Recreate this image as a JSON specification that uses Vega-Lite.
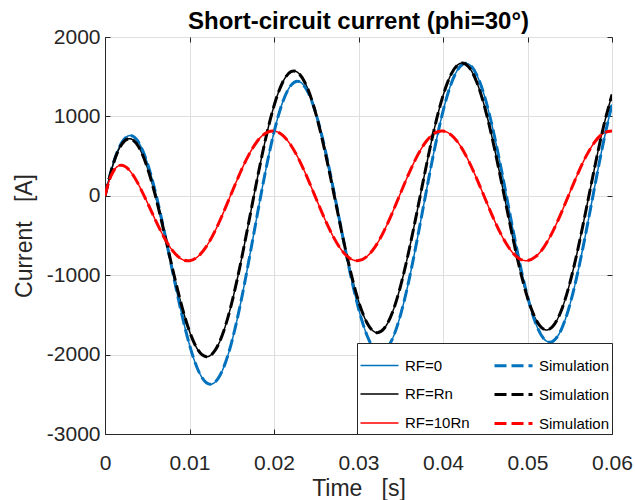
{
"$schema": "https://vega.github.io/schema/vega-lite/v6.json",
"width": 507, "height": 397,
"autosize": {"type": "none"},
"padding": {"left": 105, "top": 37, "right": 23, "bottom": 66},
"background": "white",
"title": {"text": "Short-circuit current (phi=30°)", "fontSize": 24, "fontWeight": "bold", "font": "Liberation Sans", "color": "#000000", "anchor": "middle", "offset": 7, "dy": 15},
"config": {
  "font": "Liberation Sans",
  "view": {"stroke": "#262626", "strokeWidth": 1},
  "axis": {"domainColor": "#262626", "tickColor": "#262626", "labelColor": "#262626", "titleColor": "#262626", "gridColor": "#DFDFDF", "labelFontSize": 21, "titleFontSize": 23, "titleFontWeight": "normal", "labelFont": "Liberation Sans", "titleFont": "Liberation Sans", "labelFlush": false, "tickSize": -5},
  "legend": {"orient": "bottom-right", "offset": 0, "columns": 2, "symbolType": "stroke", "symbolSize": 1444, "fillColor": "white", "strokeColor": "#262626", "padding": 2, "rowPadding": 0, "columnPadding": 18, "labelFontSize": 15, "labelColor": "#000000", "labelFont": "Liberation Sans", "labelOffset": 5}
},
"data": {"values": [
{"t":0,"s":"a","s2":"a2","i":0},{"t":0.001,"s":"a","s2":"a2","i":415},{"t":0.002,"s":"a","s2":"a2","i":674},{"t":0.003,"s":"a","s2":"a2","i":760},{"t":0.004,"s":"a","s2":"a2","i":670},{"t":0.005,"s":"a","s2":"a2","i":417},{"t":0.006,"s":"a","s2":"a2","i":32},{"t":0.007,"s":"a","s2":"a2","i":-442},{"t":0.008,"s":"a","s2":"a2","i":-955},{"t":0.009,"s":"a","s2":"a2","i":-1451},
{"t":0.010,"s":"a","s2":"a2","i":-1878},{"t":0.011,"s":"a","s2":"a2","i":-2191},{"t":0.012,"s":"a","s2":"a2","i":-2354},{"t":0.013,"s":"a","s2":"a2","i":-2349},{"t":0.014,"s":"a","s2":"a2","i":-2173},{"t":0.015,"s":"a","s2":"a2","i":-1839},{"t":0.016,"s":"a","s2":"a2","i":-1378},{"t":0.017,"s":"a","s2":"a2","i":-831},{"t":0.018,"s":"a","s2":"a2","i":-249},{"t":0.019,"s":"a","s2":"a2","i":312},
{"t":0.020,"s":"a","s2":"a2","i":801},{"t":0.021,"s":"a","s2":"a2","i":1172},{"t":0.022,"s":"a","s2":"a2","i":1391},{"t":0.023,"s":"a","s2":"a2","i":1438},{"t":0.024,"s":"a","s2":"a2","i":1310},{"t":0.025,"s":"a","s2":"a2","i":1023},{"t":0.026,"s":"a","s2":"a2","i":606},{"t":0.027,"s":"a","s2":"a2","i":101},{"t":0.028,"s":"a","s2":"a2","i":-441},{"t":0.029,"s":"a","s2":"a2","i":-965},
{"t":0.030,"s":"a","s2":"a2","i":-1419},{"t":0.031,"s":"a","s2":"a2","i":-1757},{"t":0.032,"s":"a","s2":"a2","i":-1944},{"t":0.033,"s":"a","s2":"a2","i":-1961},{"t":0.034,"s":"a","s2":"a2","i":-1805},{"t":0.035,"s":"a","s2":"a2","i":-1491},{"t":0.036,"s":"a","s2":"a2","i":-1049},{"t":0.037,"s":"a","s2":"a2","i":-519},{"t":0.038,"s":"a","s2":"a2","i":45},{"t":0.039,"s":"a","s2":"a2","i":590},
{"t":0.040,"s":"a","s2":"a2","i":1064},{"t":0.041,"s":"a","s2":"a2","i":1421},{"t":0.042,"s":"a","s2":"a2","i":1626},{"t":0.043,"s":"a","s2":"a2","i":1661},{"t":0.044,"s":"a","s2":"a2","i":1521},{"t":0.045,"s":"a","s2":"a2","i":1223},{"t":0.046,"s":"a","s2":"a2","i":794},{"t":0.047,"s":"a","s2":"a2","i":279},{"t":0.048,"s":"a","s2":"a2","i":-273},{"t":0.049,"s":"a","s2":"a2","i":-806},
{"t":0.050,"s":"a","s2":"a2","i":-1268},{"t":0.051,"s":"a","s2":"a2","i":-1614},{"t":0.052,"s":"a","s2":"a2","i":-1808},{"t":0.053,"s":"a","s2":"a2","i":-1833},{"t":0.054,"s":"a","s2":"a2","i":-1684},{"t":0.055,"s":"a","s2":"a2","i":-1377},{"t":0.056,"s":"a","s2":"a2","i":-940},{"t":0.057,"s":"a","s2":"a2","i":-417},{"t":0.058,"s":"a","s2":"a2","i":142},{"t":0.059,"s":"a","s2":"a2","i":682},{"t":0.060,"s":"a","s2":"a2","i":1151},
{"t":0,"s":"b","s2":"b2","i":0},{"t":0.001,"s":"b","s2":"b2","i":409},{"t":0.002,"s":"b","s2":"b2","i":652},{"t":0.003,"s":"b","s2":"b2","i":718},{"t":0.004,"s":"b","s2":"b2","i":614},{"t":0.005,"s":"b","s2":"b2","i":358},{"t":0.006,"s":"b","s2":"b2","i":-14},{"t":0.007,"s":"b","s2":"b2","i":-458},{"t":0.008,"s":"b","s2":"b2","i":-922},{"t":0.009,"s":"b","s2":"b2","i":-1355},
{"t":0.010,"s":"b","s2":"b2","i":-1708},{"t":0.011,"s":"b","s2":"b2","i":-1941},{"t":0.012,"s":"b","s2":"b2","i":-2026},{"t":0.013,"s":"b","s2":"b2","i":-1951},{"t":0.014,"s":"b","s2":"b2","i":-1719},{"t":0.015,"s":"b","s2":"b2","i":-1349},{"t":0.016,"s":"b","s2":"b2","i":-875},{"t":0.017,"s":"b","s2":"b2","i":-340},{"t":0.018,"s":"b","s2":"b2","i":206},{"t":0.019,"s":"b","s2":"b2","i":713},
{"t":0.020,"s":"b","s2":"b2","i":1132},{"t":0.021,"s":"b","s2":"b2","i":1424},{"t":0.022,"s":"b","s2":"b2","i":1563},{"t":0.023,"s":"b","s2":"b2","i":1535},{"t":0.024,"s":"b","s2":"b2","i":1346},{"t":0.025,"s":"b","s2":"b2","i":1015},{"t":0.026,"s":"b","s2":"b2","i":575},{"t":0.027,"s":"b","s2":"b2","i":71},{"t":0.028,"s":"b","s2":"b2","i":-448},{"t":0.029,"s":"b","s2":"b2","i":-929},
{"t":0.030,"s":"b","s2":"b2","i":-1326},{"t":0.031,"s":"b","s2":"b2","i":-1598},{"t":0.032,"s":"b","s2":"b2","i":-1719},{"t":0.033,"s":"b","s2":"b2","i":-1675},{"t":0.034,"s":"b","s2":"b2","i":-1472},{"t":0.035,"s":"b","s2":"b2","i":-1128},{"t":0.036,"s":"b","s2":"b2","i":-676},{"t":0.037,"s":"b","s2":"b2","i":-162},{"t":0.038,"s":"b","s2":"b2","i":366},{"t":0.039,"s":"b","s2":"b2","i":856},
{"t":0.040,"s":"b","s2":"b2","i":1260},{"t":0.041,"s":"b","s2":"b2","i":1539},{"t":0.042,"s":"b","s2":"b2","i":1666},{"t":0.043,"s":"b","s2":"b2","i":1628},{"t":0.044,"s":"b","s2":"b2","i":1430},{"t":0.045,"s":"b","s2":"b2","i":1090},{"t":0.046,"s":"b","s2":"b2","i":642},{"t":0.047,"s":"b","s2":"b2","i":131},{"t":0.048,"s":"b","s2":"b2","i":-394},{"t":0.049,"s":"b","s2":"b2","i":-881},
{"t":0.050,"s":"b","s2":"b2","i":-1283},{"t":0.051,"s":"b","s2":"b2","i":-1559},{"t":0.052,"s":"b","s2":"b2","i":-1684},{"t":0.053,"s":"b","s2":"b2","i":-1644},{"t":0.054,"s":"b","s2":"b2","i":-1444},{"t":0.055,"s":"b","s2":"b2","i":-1103},{"t":0.056,"s":"b","s2":"b2","i":-654},{"t":0.057,"s":"b","s2":"b2","i":-141},{"t":0.058,"s":"b","s2":"b2","i":385},{"t":0.059,"s":"b","s2":"b2","i":873},{"t":0.060,"s":"b","s2":"b2","i":1275},
{"t":0,"s":"c","s2":"c2","i":0},{"t":0.0005,"s":"c","s2":"c2","i":192},{"t":0.001,"s":"c","s2":"c2","i":311},{"t":0.0015,"s":"c","s2":"c2","i":371},{"t":0.002,"s":"c","s2":"c2","i":385},{"t":0.0025,"s":"c","s2":"c2","i":361},{"t":0.003,"s":"c","s2":"c2","i":307},{"t":0.0035,"s":"c","s2":"c2","i":231},{"t":0.004,"s":"c","s2":"c2","i":136},{"t":0.005,"s":"c","s2":"c2","i":-83},{"t":0.006,"s":"c","s2":"c2","i":-314},{"t":0.007,"s":"c","s2":"c2","i":-525},{"t":0.008,"s":"c","s2":"c2","i":-691},{"t":0.009,"s":"c","s2":"c2","i":-793},
{"t":0.010,"s":"c","s2":"c2","i":-818},{"t":0.011,"s":"c","s2":"c2","i":-765},{"t":0.012,"s":"c","s2":"c2","i":-637},{"t":0.013,"s":"c","s2":"c2","i":-448},{"t":0.014,"s":"c","s2":"c2","i":-214},{"t":0.015,"s":"c","s2":"c2","i":40},{"t":0.016,"s":"c","s2":"c2","i":290},{"t":0.017,"s":"c","s2":"c2","i":512},{"t":0.018,"s":"c","s2":"c2","i":684},{"t":0.019,"s":"c","s2":"c2","i":789},
{"t":0.020,"s":"c","s2":"c2","i":816},{"t":0.021,"s":"c","s2":"c2","i":764},{"t":0.022,"s":"c","s2":"c2","i":637},{"t":0.023,"s":"c","s2":"c2","i":447},{"t":0.024,"s":"c","s2":"c2","i":214},{"t":0.025,"s":"c","s2":"c2","i":-40},{"t":0.026,"s":"c","s2":"c2","i":-290},{"t":0.027,"s":"c","s2":"c2","i":-512},{"t":0.028,"s":"c","s2":"c2","i":-684},{"t":0.029,"s":"c","s2":"c2","i":-789},
{"t":0.030,"s":"c","s2":"c2","i":-816},{"t":0.031,"s":"c","s2":"c2","i":-764},{"t":0.032,"s":"c","s2":"c2","i":-637},{"t":0.033,"s":"c","s2":"c2","i":-447},{"t":0.034,"s":"c","s2":"c2","i":-214},{"t":0.035,"s":"c","s2":"c2","i":40},{"t":0.036,"s":"c","s2":"c2","i":290},{"t":0.037,"s":"c","s2":"c2","i":512},{"t":0.038,"s":"c","s2":"c2","i":684},{"t":0.039,"s":"c","s2":"c2","i":789},
{"t":0.040,"s":"c","s2":"c2","i":816},{"t":0.041,"s":"c","s2":"c2","i":764},{"t":0.042,"s":"c","s2":"c2","i":637},{"t":0.043,"s":"c","s2":"c2","i":447},{"t":0.044,"s":"c","s2":"c2","i":214},{"t":0.045,"s":"c","s2":"c2","i":-40},{"t":0.046,"s":"c","s2":"c2","i":-290},{"t":0.047,"s":"c","s2":"c2","i":-512},{"t":0.048,"s":"c","s2":"c2","i":-684},{"t":0.049,"s":"c","s2":"c2","i":-789},
{"t":0.050,"s":"c","s2":"c2","i":-816},{"t":0.051,"s":"c","s2":"c2","i":-764},{"t":0.052,"s":"c","s2":"c2","i":-637},{"t":0.053,"s":"c","s2":"c2","i":-447},{"t":0.054,"s":"c","s2":"c2","i":-214},{"t":0.055,"s":"c","s2":"c2","i":40},{"t":0.056,"s":"c","s2":"c2","i":290},{"t":0.057,"s":"c","s2":"c2","i":512},{"t":0.058,"s":"c","s2":"c2","i":684},{"t":0.059,"s":"c","s2":"c2","i":789},{"t":0.060,"s":"c","s2":"c2","i":816}
]},
"layer": [
 {
  "mark": {"type": "line", "interpolate": "natural", "clip": true},
  "encoding": {
   "x": {"field": "t", "type": "quantitative", "scale": {"domain": [0, 0.06], "nice": false, "zero": false},
         "axis": {"title": "Time\u00a0\u00a0\u00a0[s]", "values": [0, 0.01, 0.02, 0.03, 0.04, 0.05, 0.06], "labelExpr": "toString(datum.value)", "labelPadding": 23, "titlePadding": 4}},
   "y": {"field": "i", "type": "quantitative", "scale": {"domain": [-3000, 2000], "nice": false},
         "axis": {"title": "Current\u00a0\u00a0\u00a0[A]", "values": [-3000, -2000, -1000, 0, 1000, 2000], "labelExpr": "toString(datum.value)", "labelPadding": 10, "titlePadding": 10}},
   "color": {"field": "s", "type": "nominal",
     "scale": {"domain": ["a", "b", "c", "a2", "b2", "c2"], "range": ["#0072BD", "#000000", "#FF0000", "#0072BD", "#000000", "#FF0000"]},
     "legend": {"title": null, "labelExpr": "datum.label == 'a' ? 'RF=0' : datum.label == 'b' ? 'RF=Rn' : datum.label == 'c' ? 'RF=10Rn' : 'Simulation'"}},
   "strokeDash": {"field": "s", "type": "nominal",
     "scale": {"domain": ["a", "b", "c", "a2", "b2", "c2"], "range": [[1, 0], [1, 0], [1, 0], [12, 5], [12, 5], [12, 5]]},
     "legend": {"title": null, "labelExpr": "datum.label == 'a' ? 'RF=0' : datum.label == 'b' ? 'RF=Rn' : datum.label == 'c' ? 'RF=10Rn' : 'Simulation'"}},
   "strokeWidth": {"field": "s", "type": "nominal",
     "scale": {"type": "ordinal", "domain": ["a", "b", "c", "a2", "b2", "c2"], "range": [1.5, 1.5, 1.5, 3, 3, 3]},
     "legend": {"title": null, "labelExpr": "datum.label == 'a' ? 'RF=0' : datum.label == 'b' ? 'RF=Rn' : datum.label == 'c' ? 'RF=10Rn' : 'Simulation'"}}
  }
 },
 {
  "mark": {"type": "line", "interpolate": "natural", "clip": true},
  "encoding": {
   "x": {"field": "t", "type": "quantitative", "scale": {"domain": [0, 0.06], "nice": false, "zero": false},
         "axis": {"orient": "top", "labels": false, "title": null, "grid": false, "domain": false, "minExtent": 0, "maxExtent": 0, "values": [0, 0.01, 0.02, 0.03, 0.04, 0.05, 0.06]}},
   "y": {"field": "i", "type": "quantitative", "scale": {"domain": [-3000, 2000], "nice": false},
         "axis": {"orient": "right", "labels": false, "title": null, "grid": false, "domain": false, "minExtent": 0, "maxExtent": 0, "values": [-3000, -2000, -1000, 0, 1000, 2000]}},
   "color": {"field": "s2", "type": "nominal",
     "scale": {"domain": ["a", "b", "c", "a2", "b2", "c2"], "range": ["#0072BD", "#000000", "#FF0000", "#0072BD", "#000000", "#FF0000"]},
     "legend": {"title": null, "labelExpr": "datum.label == 'a' ? 'RF=0' : datum.label == 'b' ? 'RF=Rn' : datum.label == 'c' ? 'RF=10Rn' : 'Simulation'"}},
   "strokeDash": {"field": "s2", "type": "nominal",
     "scale": {"domain": ["a", "b", "c", "a2", "b2", "c2"], "range": [[1, 0], [1, 0], [1, 0], [12, 5], [12, 5], [12, 5]]},
     "legend": {"title": null, "labelExpr": "datum.label == 'a' ? 'RF=0' : datum.label == 'b' ? 'RF=Rn' : datum.label == 'c' ? 'RF=10Rn' : 'Simulation'"}},
   "strokeWidth": {"field": "s2", "type": "nominal",
     "scale": {"type": "ordinal", "domain": ["a", "b", "c", "a2", "b2", "c2"], "range": [1.5, 1.5, 1.5, 3, 3, 3]},
     "legend": {"title": null, "labelExpr": "datum.label == 'a' ? 'RF=0' : datum.label == 'b' ? 'RF=Rn' : datum.label == 'c' ? 'RF=10Rn' : 'Simulation'"}}
  }
 }
],
"resolve": {"axis": {"x": "independent", "y": "independent"}}
}
